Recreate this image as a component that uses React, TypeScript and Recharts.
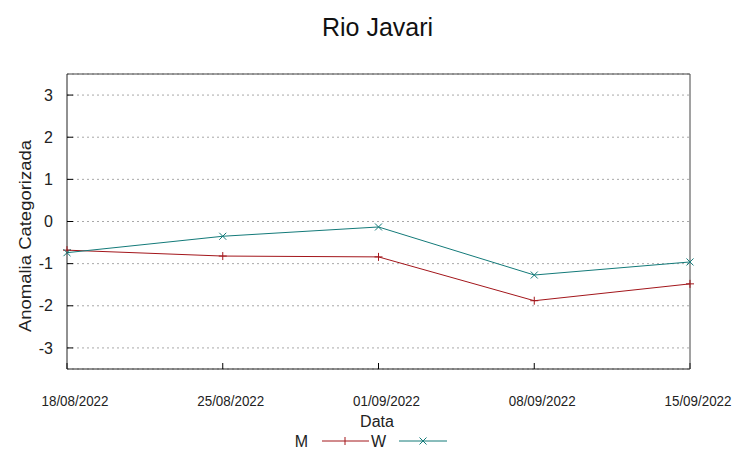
import React from 'react';
import { LineChart, Line, XAxis, YAxis, CartesianGrid } from 'recharts';

const dates = ['18/08/2022', '25/08/2022', '01/09/2022', '08/09/2022', '15/09/2022'];
const seriesM = [-0.68, -0.82, -0.84, -1.88, -1.48];
const seriesW = [-0.74, -0.35, -0.13, -1.27, -0.96];
const yTicks = [-3, -2, -1, 0, 1, 2, 3];

const RED = '#a3161b';
const TEAL = '#137a79';
const FONT = '"Liberation Sans", Arial, sans-serif';

const data = dates.map((d, i) => ({ date: d, M: seriesM[i], W: seriesW[i] }));

const PlusDot = (props: any) => {
  const { cx, cy, index } = props;
  if (cx == null || cy == null) return null;
  return (
    <g key={`p${index}`}>
      <line x1={cx - 4} x2={cx + 4} y1={cy} y2={cy} stroke={RED} strokeWidth={1} />
      <line x1={cx} x2={cx} y1={cy - 4} y2={cy + 4} stroke={RED} strokeWidth={1} />
    </g>
  );
};

const CrossDot = (props: any) => {
  const { cx, cy, index } = props;
  if (cx == null || cy == null) return null;
  return (
    <g key={`x${index}`}>
      <line x1={cx - 3.5} x2={cx + 3.5} y1={cy - 3.5} y2={cy + 3.5} stroke={TEAL} strokeWidth={1} />
      <line x1={cx - 3.5} x2={cx + 3.5} y1={cy + 3.5} y2={cy - 3.5} stroke={TEAL} strokeWidth={1} />
    </g>
  );
};

const DateTick = (props: any) => {
  const { x, payload } = props;
  return (
    <text
      x={x + 8}
      y={406}
      textAnchor="middle"
      fontSize={15}
      fontFamily={FONT}
      fill="#222"
      textLength={67}
      lengthAdjust="spacingAndGlyphs"
    >
      {payload.value}
    </text>
  );
};

export default function App() {
  return (
    <div style={{ position: 'absolute', left: 0, top: 0, width: 753, height: 458, background: '#fff' }}>
      <LineChart
        width={753}
        height={458}
        data={data}
        margin={{ top: 73, right: 62, bottom: 59, left: 0 }}
      >
        <CartesianGrid vertical={false} horizontal={true} stroke="#a8a8a8" strokeDasharray="2 3" yAxisId="left" xAxisId="bottom" />
        <XAxis
          xAxisId="bottom"
          dataKey="date"
          orientation="bottom"
          height={30}
          axisLine={{ stroke: '#222' }}
          tickLine={{ stroke: '#000' }}
          tickSize={-6}
          tickMargin={32}
          interval={0}
          tick={<DateTick />}
        />
        <XAxis
          xAxisId="top"
          dataKey="date"
          orientation="top"
          height={1}
          axisLine={{ stroke: '#444' }}
          tickLine={{ stroke: '#000' }}
          tickSize={-6}
          interval={0}
          tick={false}
        />
        <YAxis
          yAxisId="left"
          orientation="left"
          width={67}
          type="number"
          domain={[-3.5, 3.5]}
          ticks={yTicks}
          allowDataOverflow
          axisLine={{ stroke: '#222' }}
          tickLine={{ stroke: '#000' }}
          tickSize={-6}
          tickMargin={20}
          tick={{ fontSize: 16, fontFamily: FONT, fill: '#222' }}
        />
        <YAxis
          yAxisId="right"
          orientation="right"
          width={1}
          type="number"
          domain={[-3.5, 3.5]}
          ticks={yTicks}
          allowDataOverflow
          axisLine={{ stroke: '#444' }}
          tickLine={{ stroke: '#000' }}
          tickSize={-6}
          tick={false}
        />
        <Line
          xAxisId="bottom"
          yAxisId="left"
          dataKey="M"
          stroke={RED}
          strokeWidth={1}
          dot={PlusDot}
          activeDot={false}
          isAnimationActive={false}
          type="linear"
        />
        <Line
          xAxisId="bottom"
          yAxisId="left"
          dataKey="W"
          stroke={TEAL}
          strokeWidth={1}
          dot={CrossDot}
          activeDot={false}
          isAnimationActive={false}
          type="linear"
        />
      </LineChart>
      <svg
        width={753}
        height={458}
        style={{ position: 'absolute', left: 0, top: 0, pointerEvents: 'none' }}
      >
        <text x={377.5} y={36} textAnchor="middle" fontSize={25} fontFamily={FONT} fill="#111">Rio Javari</text>
        <text
          x={31}
          y={236}
          transform="rotate(-90 31 236)"
          textAnchor="middle"
          fontSize={17}
          fontFamily={FONT}
          fill="#222"
          textLength={192}
          lengthAdjust="spacingAndGlyphs"
        >
          Anomalia Categorizada
        </text>
        <text x={377} y={427} textAnchor="middle" fontSize={16} fontFamily={FONT} fill="#222">Data</text>
        <text x={308} y={447} textAnchor="end" fontSize={16} fontFamily={FONT} fill="#222">M</text>
        <line x1={322} x2={369} y1={441} y2={441} stroke={RED} strokeWidth={1} />
        <line x1={345} x2={345} y1={437} y2={445} stroke={RED} strokeWidth={1} />
        <text x={386} y={447} textAnchor="end" fontSize={16} fontFamily={FONT} fill="#222">W</text>
        <line x1={399} x2={447} y1={441} y2={441} stroke={TEAL} strokeWidth={1} />
        <line x1={419.5} x2={426.5} y1={437.5} y2={444.5} stroke={TEAL} strokeWidth={1} />
        <line x1={419.5} x2={426.5} y1={444.5} y2={437.5} stroke={TEAL} strokeWidth={1} />
      </svg>
    </div>
  );
}
